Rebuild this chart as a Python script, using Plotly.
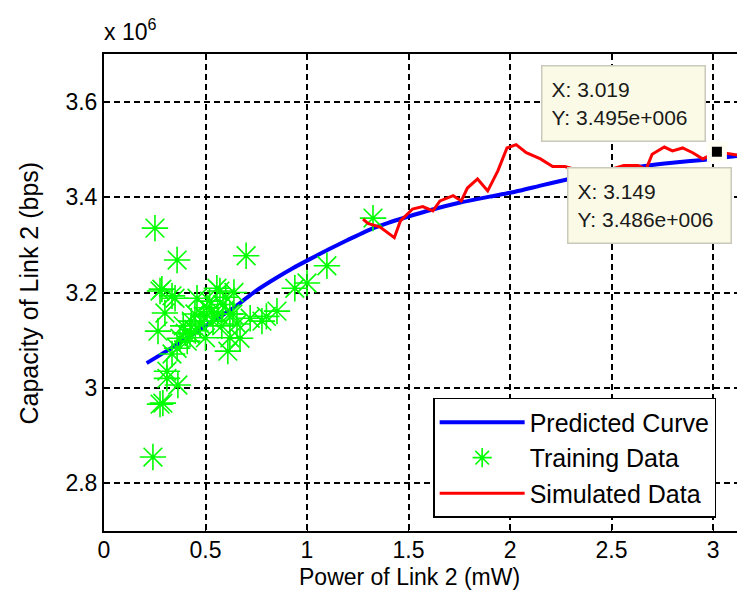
import plotly.graph_objects as go

# ---- data (capacity in units of 10^6 bps, power in mW) ----
pred_x = [0.21, 0.3, 0.4, 0.5, 0.6, 0.67, 0.75, 0.85, 0.93, 1.014, 1.11, 1.2, 1.31, 1.4,
          1.49, 1.6, 1.75, 1.9, 2.0, 2.15, 2.27, 2.45, 2.675, 2.8, 2.95, 3.05, 3.15]
pred_y = [3.052, 3.075, 3.102, 3.13, 3.157, 3.178, 3.204, 3.231, 3.251, 3.27, 3.291, 3.31, 3.332, 3.346,
          3.358, 3.372, 3.388, 3.401, 3.409, 3.424, 3.436, 3.452, 3.466, 3.472, 3.478, 3.483, 3.488]

train_x = [0.241, 0.276, 0.29, 0.31, 0.364, 0.31, 0.251, 0.36, 0.70, 0.276, 0.285, 0.335, 0.35,
           0.30, 0.266, 0.39, 0.448, 0.507, 0.586, 0.62, 0.655, 0.67, 0.61, 0.72, 0.80, 0.36,
           0.335, 0.424, 0.537, 0.473, 0.56, 0.52, 0.41, 0.374, 0.556, 0.571, 0.458, 0.778,
           0.852, 0.94, 1.0, 1.098, 1.325, 0.635, 0.49, 0.45, 0.53, 0.60, 0.43, 0.58, 0.40,
           0.62, 0.50, 0.64]
train_y = [2.855, 2.966, 2.968, 3.020, 3.006, 3.035, 3.335, 3.268, 3.277, 3.203, 3.207, 3.193, 3.188,
           3.157, 3.119, 3.13, 3.155, 3.168, 3.175, 3.155, 3.134, 3.104, 3.077, 3.146, 3.15, 3.083,
           3.071, 3.113, 3.14, 3.134, 3.155, 3.182, 3.098, 3.104, 3.209, 3.203, 3.188, 3.14,
           3.161, 3.209, 3.22, 3.256, 3.356, 3.155, 3.15, 3.12, 3.16, 3.19, 3.14, 3.13, 3.115,
           3.105, 3.105, 3.2]

sim_x = [1.276, 1.30, 1.36, 1.43, 1.46, 1.52, 1.57, 1.62, 1.655, 1.72, 1.76, 1.79, 1.84, 1.89,
         1.94, 1.985, 2.03, 2.08, 2.15, 2.21, 2.27, 2.35, 2.45, 2.56, 2.63, 2.67, 2.70, 2.76,
         2.80, 2.85, 2.90, 2.95, 3.019, 3.08, 3.149]
sim_y = [3.354, 3.345, 3.337, 3.315, 3.35, 3.375, 3.38, 3.371, 3.392, 3.403, 3.392, 3.419, 3.438, 3.413,
         3.455, 3.503, 3.51, 3.493, 3.48, 3.464, 3.464, 3.455, 3.452, 3.466, 3.466, 3.458, 3.49, 3.505,
         3.497, 3.503, 3.493, 3.48, 3.495, 3.49, 3.486]

tip_x = [3.019, 3.149]
tip_y = [3.495, 3.486]
tip_labels = ["X: 3.019<br>Y: 3.495e+006", "X: 3.149<br>Y: 3.486e+006"]

x_ticks = [0, 0.5, 1, 1.5, 2, 2.5, 3]
y_ticks = [2.8, 3.0, 3.2, 3.4, 3.6]

FONT = "Liberation Sans, Arial, sans-serif"

fig = go.Figure()
fig.add_trace(go.Scatter(x=pred_x, y=pred_y, mode="lines", name="Predicted Curve",
                         line=dict(color="#0000ff", width=4, shape="spline", smoothing=0.6)))
fig.add_trace(go.Scatter(x=train_x, y=train_y, mode="markers", name="Training Data",
                         marker=dict(symbol="asterisk-open", size=22, color="#00ff00",
                                     line=dict(color="#00ff00", width=1.6))))
fig.add_trace(go.Scatter(x=sim_x, y=sim_y, mode="lines", name="Simulated Data",
                         line=dict(color="#ff0000", width=3)))
fig.add_trace(go.Scatter(x=tip_x, y=tip_y, mode="markers", showlegend=False, cliponaxis=False,
                         marker=dict(symbol="square", size=15, color="black",
                                     line=dict(color="#fffff4", width=5))))

grid = dict(showgrid=True, gridcolor="black", gridwidth=1.8, griddash="6px,4px",
            zeroline=False, showline=True, linecolor="black", linewidth=2,
            ticks="inside", ticklen=6, tickcolor="black",
            tickfont=dict(family=FONT, size=23, color="black"))

fig.update_xaxes(range=[0, 3.118], tickvals=x_ticks, ticktext=[f"{v:g}" for v in x_ticks],
                 mirror=True, ticklabelstandoff=-3, **grid)
fig.update_yaxes(range=[2.7, 3.7], tickvals=y_ticks, ticktext=[f"{v:g}" for v in y_ticks],
                 mirror=False, **grid)

annotations = [
    dict(text="Power of Link 2 (mW)", xref="paper", yref="paper", x=0.4834, y=-0.0964,
         xanchor="center", yanchor="middle", showarrow=False, borderpad=0,
         font=dict(family=FONT, size=23, color="black")),
    dict(text="Capacity of Link 2 (bps)", xref="paper", yref="paper", x=-0.1185, y=0.5,
         xanchor="center", yanchor="middle", textangle=-90, showarrow=False,
         font=dict(family=FONT, size=25, color="black")),
    dict(text="x 10<sup>6</sup>", xref="paper", yref="paper", x=-0.003, y=1.015,
         xanchor="left", yanchor="bottom", showarrow=False,
         font=dict(family=FONT, size=23, color="black")),
]
tip_pos = [(0.6904, 0.977), (0.7314, 0.763)]
for (px, py), label in zip(tip_pos, tip_labels):
    annotations.append(dict(text=label, xref="paper", yref="paper", x=px, y=py,
                            xanchor="left", yanchor="top", align="left", showarrow=False,
                            width=144, height=56, borderpad=9,
                            bgcolor="#fbfae6", bordercolor="#c9c9bc", borderwidth=1.5,
                            font=dict(family=FONT, size=21, color="#1a1a1a")))

fig.update_layout(
    width=737, height=590,
    margin=dict(l=104, r=0, t=54, b=59),
    paper_bgcolor="white", plot_bgcolor="white",
    annotations=annotations,
    legend=dict(x=0.52, y=0.279, xanchor="left", yanchor="top",
                bgcolor="white", bordercolor="black", borderwidth=1.5,
                font=dict(family=FONT, size=25, color="black"),
                itemwidth=85, tracegroupgap=0),
    showlegend=True,
)

fig.write_html("out.html")
